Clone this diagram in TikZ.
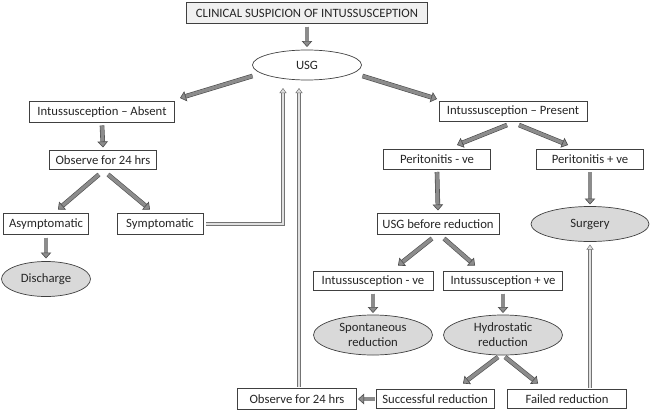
\documentclass[tikz,border=0pt]{standalone}
\usepackage{fontspec}
\setmainfont{Carlito}
\usetikzlibrary{shapes.geometric,arrows.meta,calc}
\definecolor{txt}{HTML}{262626}
\definecolor{edge}{HTML}{404040}
\tikzset{
  box/.style={draw=edge, line width=0.7pt, fill=white, inner sep=0pt, outer sep=0pt,
    minimum height=20pt, text=txt, font=\fontsize{12.7}{15}\selectfont, align=center},
  topbox/.style={box, fill=black!6},
  oval/.style={ellipse, draw=edge, line width=0.7pt, fill=black!15, inner sep=0pt, outer sep=0pt,
    text=txt, font=\fontsize{12.7}{15}\selectfont, align=center},
  whiteoval/.style={oval, fill=white},
  blk/.style={draw=black!70, line width=0.6pt, double=black!45, double distance=3.4pt,
    -{Triangle[length=6pt,width=10.5pt,fill=black!45]}},
  lng/.style={draw=black!55, line width=0.5pt, double=black!12, double distance=2.6pt,
    -{Triangle[length=5pt,width=7pt,fill=black!12]}},
}
\begin{document}
\begin{tikzpicture}[x=1pt,y=-1pt]
\useasboundingbox (0,0) rectangle (650,415);
% nodes
\node[topbox, minimum width=241pt, minimum height=21pt] (top) at (307,13) {CLINICAL SUSPICION OF INTUSSUSCEPTION};
\node[whiteoval, minimum width=109pt, minimum height=30pt] (usg) at (307,65) {USG};
\node[box, minimum width=145pt, minimum height=21pt] (absent) at (102,112) {Intussusception -- Absent};
\node[box, minimum width=107pt, minimum height=19pt] (obs1) at (103,160) {Observe for 24 hrs};
\node[box, minimum width=85pt, minimum height=21pt] (asym) at (46,224) {Asymptomatic};
\node[box, minimum width=86pt, minimum height=21pt] (symp) at (160,224) {Symptomatic};
\node[oval, minimum width=89pt, minimum height=35pt] (disch) at (46,279) {Discharge};
\node[box, minimum width=148pt, minimum height=20pt] (present) at (513,111) {Intussusception -- Present};
\node[box, minimum width=107pt, minimum height=20pt] (pneg) at (437,159) {Peritonitis - ve};
\node[box, minimum width=107pt, minimum height=20pt] (ppos) at (590,159) {Peritonitis + ve};
\node[box, minimum width=122pt, minimum height=21pt] (usgb) at (438,224) {USG before reduction};
\node[oval, minimum width=118pt, minimum height=35pt] (surgery) at (590,224) {Surgery};
\node[box, minimum width=120pt, minimum height=19pt] (ineg) at (373,281) {Intussusception - ve};
\node[box, minimum width=119pt, minimum height=19pt] (ipos) at (503,281) {Intussusception + ve};
\node[oval, minimum width=119pt, minimum height=40pt] (spont) at (373,335) {Spontaneous\\reduction};
\node[oval, minimum width=119pt, minimum height=40pt] (hydro) at (503,335) {Hydrostatic\\reduction};
\node[box, minimum width=119pt, minimum height=21pt] (obs2) at (297,399) {Observe for 24 hrs};
\node[box, minimum width=118pt, minimum height=19pt] (succ) at (435,399) {Successful reduction};
\node[box, minimum width=119pt, minimum height=19pt] (failed) at (567,399) {Failed reduction};
% short block arrows
\draw[blk] ($(top.south)+(0,3)$) -- ($(usg.north)+(0,-3)$);
\draw[blk] ($(usg.west)+(0,11)$) -- ($(absent.north east)+(5.5,-3.5)$);
\draw[blk] ($(usg.east)+(1,11)$) -- ($(present.north west)+(-2,-2)$);
\draw[blk] ($(absent.south)+(0,3)$) -- ($(obs1.north)+(0,-3)$);
\draw[blk] ($(obs1.south)+(-4,5)$) -- ($(asym.north)+(12,-4)$);
\draw[blk] ($(obs1.south)+(5,5)$) -- ($(symp.north)+(-10,-4)$);
\draw[blk] ($(asym.south)+(0,3)$) -- ($(disch.north)+(0,-3)$);
\draw[blk] ($(present.south)+(-6,4)$) -- ($(pneg.north)+(20,-4)$);
\draw[blk] ($(present.south)+(6,4)$) -- ($(ppos.north)+(-22,-4)$);
\draw[blk] ($(pneg.south)+(0,3)$) -- ($(usgb.north)+(0,-3)$);
\draw[blk] ($(ppos.south)+(0,3)$) -- ($(surgery.north)+(0,-2)$);
\draw[blk] ($(usgb.south)+(-6,4)$) -- ($(ineg.north)+(25,-6)$);
\draw[blk] ($(usgb.south)+(6,4)$) -- ($(ipos.north)+(-28,-6)$);
\draw[blk] ($(ineg.south)+(0,3)$) -- ($(spont.north)+(0,-2)$);
\draw[blk] ($(ipos.south)+(0,3)$) -- ($(hydro.north)+(0,-2)$);
\draw[blk] ($(hydro.south)+(-5,2)$) -- ($(succ.north)+(28,-6)$);
\draw[blk] ($(hydro.south)+(2,2)$) -- ($(failed.north)+(-29,-6)$);
\draw[blk] ($(succ.west)+(-1.5,0)$) -- ($(obs2.east)+(1.5,0)$);
% long hatched arrows
\draw[lng] ($(symp.east)+(3,0)$) -| ($(usg.south)+(-24,8)$);
\draw[lng] ($(obs2.north)+(2,-2)$) -- ($(usg.south)+(-8,8)$);
\draw[lng] ($(failed.north)+(23,-2)$) -- ($(surgery.south)+(0,3)$);
\end{tikzpicture}
\end{document}
